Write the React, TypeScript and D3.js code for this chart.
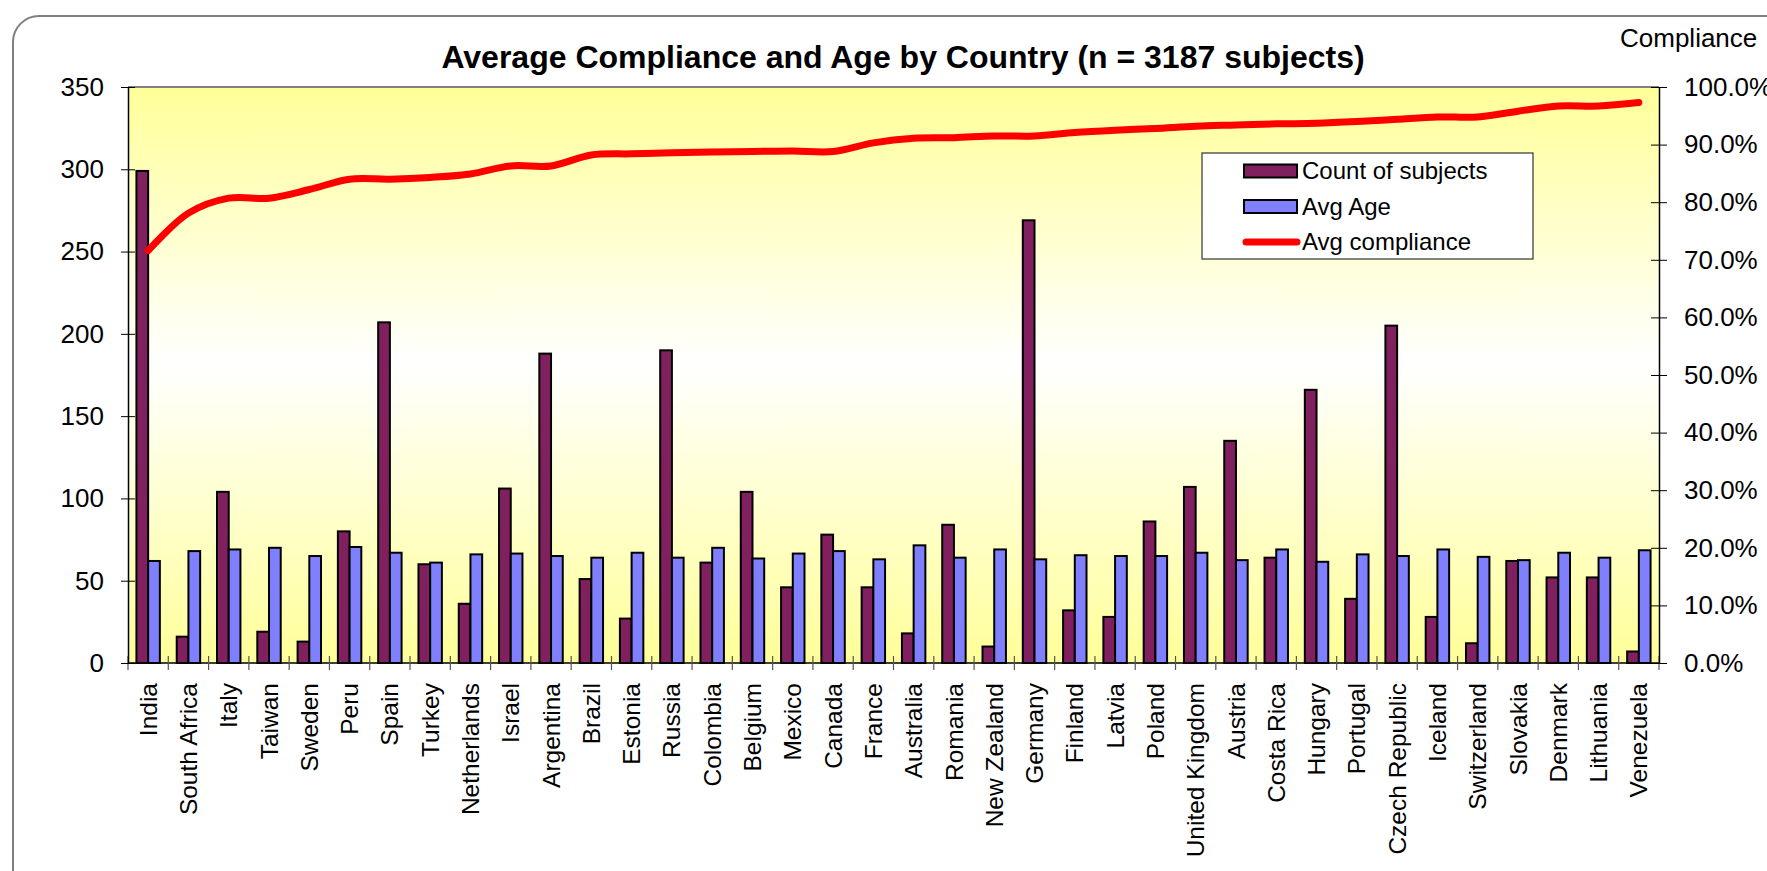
import { useEffect, useRef } from 'react';
import * as d3 from 'd3';

const COUNTRIES = [
  'India', 'South Africa', 'Italy', 'Taiwan', 'Sweden', 'Peru', 'Spain', 'Turkey', 'Netherlands', 'Israel',
  'Argentina', 'Brazil', 'Estonia', 'Russia', 'Colombia', 'Belgium', 'Mexico', 'Canada', 'France', 'Australia',
  'Romania', 'New Zealand', 'Germany', 'Finland', 'Latvia', 'Poland', 'United Kingdom', 'Austria', 'Costa Rica', 'Hungary',
  'Portugal', 'Czech Republic', 'Iceland', 'Switzerland', 'Slovakia', 'Denmark', 'Lithuania', 'Venezuela',
];

// count of subjects per country (sums to 3187)
const COUNTS = [
  299, 16, 104, 19, 13, 80, 207, 60, 36, 106,
  188, 51, 27, 190, 61, 104, 46, 78, 46, 18,
  84, 10, 269, 32, 28, 86, 107, 135, 64, 166,
  39, 205, 28, 12, 62, 52, 52, 7,
];

const AGES = [
  62, 68, 69, 70, 65, 70.5, 67, 61, 66, 66.5,
  65, 64, 67, 64, 70, 63.5, 66.5, 68, 63, 71.5,
  64, 69, 63, 65.5, 65, 65, 67, 62.5, 69, 61.5,
  66, 65, 69, 64.5, 62.5, 67, 64, 68.5,
];

const COMPLIANCE = [
  0.716, 0.781, 0.807, 0.807, 0.822, 0.84, 0.84, 0.843, 0.849, 0.863,
  0.863, 0.882, 0.884, 0.886, 0.887, 0.888, 0.889, 0.888, 0.903, 0.911,
  0.912, 0.915, 0.915, 0.921, 0.925, 0.928, 0.932, 0.934, 0.936, 0.937,
  0.94, 0.944, 0.948, 0.948, 0.958, 0.967, 0.967, 0.973,
];

const LEFT_TICKS = [0, 50, 100, 150, 200, 250, 300, 350];
const RIGHT_TICKS = [0, 0.1, 0.2, 0.3, 0.4, 0.5, 0.6, 0.7, 0.8, 0.9, 1.0];
const SERIES = ['Count of subjects', 'Avg Age', 'Avg compliance'];

const COUNT_COLOR = '#80205f';
const AGE_COLOR = '#8080ff';
const LINE_COLOR = '#ff0000';
const FONT = '"Liberation Sans", Arial, sans-serif';

const W = 1767;
const H = 871;

export default function App() {
  const svgRef = useRef<SVGSVGElement>(null);

  useEffect(() => {
    if (!svgRef.current) return;
    const svg = d3.select(svgRef.current);
    svg.selectAll('*').remove();

    const plot = { left: 128, right: 1659, top: 87, bottom: 663 };

    const x = d3.scaleBand<string>()
      .domain(COUNTRIES)
      .range([plot.left, plot.right])
      .padding(0);
    const xSub = d3.scaleBand<string>()
      .domain(['count', 'age'])
      .range([0, x.bandwidth()])
      .paddingInner(0)
      .paddingOuter(0.72);
    const y = d3.scaleLinear().domain([0, 350]).range([plot.bottom, plot.top]);
    const yR = d3.scaleLinear().domain([0, 1]).range([plot.bottom, plot.top]);

    // outer rounded frame (runs off the right and bottom edges)
    svg.append('rect')
      .attr('x', 13).attr('y', 16)
      .attr('width', W + 60).attr('height', H + 60)
      .attr('rx', 26)
      .attr('fill', '#fff')
      .attr('stroke', '#808080')
      .attr('stroke-width', 2);

    // plot background gradient
    const defs = svg.append('defs');
    const grad = defs.append('linearGradient')
      .attr('id', 'plotbg')
      .attr('x1', 0).attr('y1', 0).attr('x2', 0).attr('y2', 1);
    grad.append('stop').attr('offset', '0%').attr('stop-color', '#ffff99');
    grad.append('stop').attr('offset', '48%').attr('stop-color', '#ffffff');
    grad.append('stop').attr('offset', '100%').attr('stop-color', '#ffff99');

    svg.append('rect')
      .attr('x', plot.left).attr('y', plot.top)
      .attr('width', plot.right - plot.left)
      .attr('height', plot.bottom - plot.top)
      .attr('fill', 'url(#plotbg)');

    svg.append('line')
      .attr('x1', plot.left).attr('x2', plot.right)
      .attr('y1', plot.top).attr('y2', plot.top)
      .attr('stroke', '#808080')
      .attr('stroke-width', 2);

    // bars
    COUNTRIES.forEach((c, i) => {
      const x0 = x(c) || 0;
      svg.append('rect')
        .attr('x', x0 + (xSub('count') || 0))
        .attr('y', y(COUNTS[i]))
        .attr('width', xSub.bandwidth())
        .attr('height', y(0) - y(COUNTS[i]))
        .attr('fill', COUNT_COLOR)
        .attr('stroke', '#000')
        .attr('stroke-width', 2);
      svg.append('rect')
        .attr('x', x0 + (xSub('age') || 0))
        .attr('y', y(AGES[i]))
        .attr('width', xSub.bandwidth())
        .attr('height', y(0) - y(AGES[i]))
        .attr('fill', AGE_COLOR)
        .attr('stroke', '#000')
        .attr('stroke-width', 2);
    });

    // compliance line
    const line = d3.line<number>()
      .x((_, i) => (x(COUNTRIES[i]) || 0) + x.bandwidth() / 2)
      .y(d => yR(d))
      .curve(d3.curveCatmullRom.alpha(0.5));

    svg.append('path')
      .datum(COMPLIANCE)
      .attr('d', line)
      .attr('fill', 'none')
      .attr('stroke', LINE_COLOR)
      .attr('stroke-width', 7)
      .attr('stroke-linecap', 'round')
      .attr('stroke-linejoin', 'round');

    // x axis line + boundary ticks
    svg.append('line')
      .attr('x1', plot.left).attr('x2', plot.right)
      .attr('y1', plot.bottom).attr('y2', plot.bottom)
      .attr('stroke', '#000')
      .attr('stroke-width', 1.5);

    d3.range(COUNTRIES.length + 1).forEach(i => {
      const bx = plot.left + i * x.step();
      svg.append('line')
        .attr('x1', bx).attr('x2', bx)
        .attr('y1', plot.bottom - 7).attr('y2', plot.bottom + 7)
        .attr('stroke', '#555')
        .attr('stroke-width', 1.2);
    });

    // category labels
    COUNTRIES.forEach(c => {
      const cx = (x(c) || 0) + x.bandwidth() / 2;
      svg.append('text')
        .attr('transform', `translate(${cx},${plot.bottom + 20}) rotate(-90)`)
        .attr('text-anchor', 'end')
        .attr('dy', '0.35em')
        .attr('font-family', FONT)
        .attr('font-size', '24.5px')
        .attr('fill', '#000')
        .text(c);
    });

    // left axis
    const leftAxis = svg.append('g')
      .attr('transform', `translate(${plot.left},0)`)
      .call(d3.axisLeft(y).tickValues(LEFT_TICKS).tickSizeInner(7).tickSizeOuter(0).tickPadding(17));
    leftAxis.select('.domain').attr('stroke', '#000').attr('stroke-width', 1.5);
    leftAxis.selectAll('.tick line').attr('x1', 7).attr('stroke', '#000');
    leftAxis.selectAll('.tick text')
      .attr('font-family', FONT)
      .attr('font-size', '26px')
      .attr('fill', '#000');

    // right axis
    const rightAxis = svg.append('g')
      .attr('transform', `translate(${plot.right},0)`)
      .call(d3.axisRight(yR).tickValues(RIGHT_TICKS).tickFormat(d3.format('.1%')).tickSizeInner(8).tickSizeOuter(0).tickPadding(17));
    rightAxis.select('.domain').attr('stroke', '#000').attr('stroke-width', 1.5);
    rightAxis.selectAll('.tick line').attr('x1', -8).attr('stroke', '#000');
    rightAxis.selectAll('.tick text')
      .attr('font-family', FONT)
      .attr('font-size', '26px')
      .attr('fill', '#000');

    svg.append('text')
      .attr('x', 1620)
      .attr('y', 47)
      .attr('font-family', FONT)
      .attr('font-size', '26px')
      .attr('fill', '#000')
      .text('Compliance');

    // title
    svg.append('text')
      .attr('x', 903)
      .attr('y', 68)
      .attr('text-anchor', 'middle')
      .attr('font-family', FONT)
      .attr('font-size', '32px')
      .attr('font-weight', 'bold')
      .attr('fill', '#000')
      .text('Average Compliance and Age by Country (n = 3187 subjects)');

    // legend
    const lg = svg.append('g').attr('transform', 'translate(1202,153)');
    lg.append('rect')
      .attr('width', 331).attr('height', 106)
      .attr('fill', '#fff')
      .attr('stroke', '#333')
      .attr('stroke-width', 1.2);

    SERIES.forEach((name, i) => {
      const cy = 18 + i * 35.5;
      if (i < 2) {
        lg.append('rect')
          .attr('x', 42).attr('y', cy - 6.5)
          .attr('width', 53).attr('height', 13)
          .attr('fill', i === 0 ? COUNT_COLOR : AGE_COLOR)
          .attr('stroke', '#000')
          .attr('stroke-width', 2);
      } else {
        lg.append('line')
          .attr('x1', 44).attr('x2', 95)
          .attr('y1', cy).attr('y2', cy)
          .attr('stroke', LINE_COLOR)
          .attr('stroke-width', 7)
          .attr('stroke-linecap', 'round');
      }
      lg.append('text')
        .attr('x', 100)
        .attr('y', cy)
        .attr('dy', '0.35em')
        .attr('font-family', FONT)
        .attr('font-size', '24px')
        .attr('fill', '#000')
        .text(name);
    });
  }, []);

  return (
    <svg
      ref={svgRef}
      width={W}
      height={H}
      style={{ position: 'absolute', left: 0, top: 0, display: 'block', background: '#fff' }}
    />
  );
}
